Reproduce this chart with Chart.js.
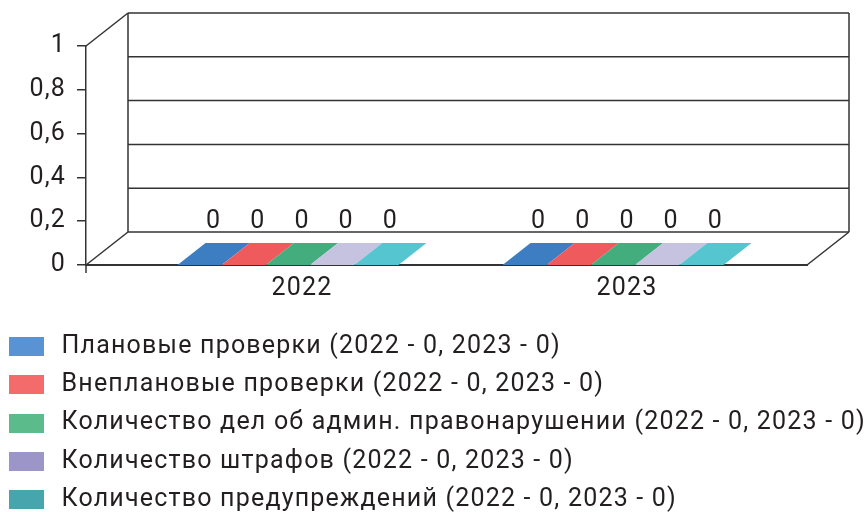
<!DOCTYPE html>
<html lang="ru">
<head>
<meta charset="utf-8">
<title>Проверки 2022–2023</title>
<script src="https://cdn.jsdelivr.net/npm/chart.js@4/dist/chart.umd.min.js"></script>
<style>
  html, body { margin: 0; padding: 0; background: #ffffff; }
  canvas { display: block; }
</style>
</head>
<body>
<canvas id="chart" width="866" height="512"></canvas>
<script>
const years = ["2022", "2023"];
const seriesNames = [
  "Плановые проверки",
  "Внеплановые проверки",
  "Количество дел об админ. правонарушении",
  "Количество штрафов",
  "Количество предупреждений",
];
const plannedChecks = [0, 0];
const unplannedChecks = [0, 0];
const adminCases = [0, 0];
const fines = [0, 0];
const warnings = [0, 0];
const yTickLabels = ["0", "0,2", "0,4", "0,6", "0,8", "1"];

const seriesValues = [plannedChecks, unplannedChecks, adminCases, fines, warnings];

// front colour (legend) and lit top face of each bar
const palette = {
  front: ["#5a93d3", "#f36b6b", "#5bbb8b", "#9c95c8", "#47a6ad"],
  top: ["#3d7ec2", "#ef5a5c", "#44ad7d", "#c5c3e0", "#55c5cf"],
};

const ink = "#333333";
const textColor = "#231f20";
const tracking = "1.2px";
const wall = { dx: 42, dy: 33 }; // depth of the floor / back wall
const slab = { dx: 28, dy: 22 }; // depth of a bar

const darken = (hex, f) => {
  const n = parseInt(hex.slice(1), 16);
  const c = [(n >> 16) & 255, (n >> 8) & 255, n & 255].map((v) => Math.round(v * f));
  return `rgb(${c[0]}, ${c[1]}, ${c[2]})`;
};

// legend swatch: 35x19 block with a gap before the text
const makeSwatch = (color) => {
  const c = document.createElement("canvas");
  c.width = 40;
  c.height = 19;
  const g = c.getContext("2d");
  g.fillStyle = color;
  g.fillRect(0, 0, 35, 19);
  return c;
};
const swatches = palette.front.map(makeSwatch);

const strokeLine = (ctx, x1, y1, x2, y2) => {
  ctx.beginPath();
  ctx.moveTo(x1, y1);
  ctx.lineTo(x2, y2);
  ctx.stroke();
};

const fillPoly = (ctx, pts, color) => {
  ctx.beginPath();
  pts.forEach(([px, py], k) => (k ? ctx.lineTo(px, py) : ctx.moveTo(px, py)));
  ctx.closePath();
  ctx.fillStyle = color;
  ctx.fill();
};

const box3d = {
  id: "box3d",
  beforeLayout(chart) {
    chart.ctx.letterSpacing = tracking;
  },
  beforeDraw(chart) {
    chart.ctx.letterSpacing = tracking;
  },
  beforeDatasetsDraw(chart) {
    const { ctx, chartArea: a, scales } = chart;
    const y = scales.y;
    ctx.save();
    ctx.strokeStyle = ink;
    ctx.lineWidth = 1.5;

    // back wall with its grid lines
    y.ticks.forEach((t) => {
      const py = y.getPixelForValue(t.value) - wall.dy;
      strokeLine(ctx, a.left + wall.dx, py, a.right + wall.dx, py);
    });
    strokeLine(ctx, a.left + wall.dx, a.top - wall.dy, a.left + wall.dx, a.bottom - wall.dy);
    strokeLine(ctx, a.right + wall.dx, a.top - wall.dy, a.right + wall.dx, a.bottom - wall.dy);

    // side wall and floor edges
    strokeLine(ctx, a.left, a.top, a.left + wall.dx, a.top - wall.dy);
    strokeLine(ctx, a.left, a.bottom, a.left + wall.dx, a.bottom - wall.dy);
    strokeLine(ctx, a.right, a.bottom, a.right + wall.dx, a.bottom - wall.dy);
    strokeLine(ctx, a.left, a.bottom, a.left, a.bottom + 8);

    // bars as boxes standing on the floor
    chart.data.datasets.forEach((ds, i) => {
      chart.getDatasetMeta(i).data.forEach((el) => {
        const { x, y: top, base, width } = el.getProps(["x", "y", "base", "width"], true);
        const left = x - width / 2 - slab.dx / 2;
        const right = left + width;
        if (base - top > 0) {
          fillPoly(ctx, [[left, top], [right, top], [right, base], [left, base]], palette.front[i]);
          fillPoly(
            ctx,
            [[right, top], [right + slab.dx, top - slab.dy], [right + slab.dx, base - slab.dy], [right, base]],
            darken(palette.front[i], 0.75)
          );
        }
        fillPoly(
          ctx,
          [[left, top], [right, top], [right + slab.dx, top - slab.dy], [left + slab.dx, top - slab.dy]],
          palette.top[i]
        );
      });
    });
    ctx.restore();
    return false;
  },
  afterDraw(chart) {
    const { ctx } = chart;
    ctx.save();
    ctx.font = "25px Roboto";
    ctx.fillStyle = textColor;
    ctx.textAlign = "center";
    ctx.textBaseline = "alphabetic";
    chart.data.datasets.forEach((ds, i) => {
      chart.getDatasetMeta(i).data.forEach((el, j) => {
        const { x, y: top } = el.getProps(["x", "y"], true);
        ctx.fillText(String(ds.data[j].y), x, top - slab.dy - 15);
      });
    });
    ctx.restore();
  },
};

Chart.defaults.font.family = "Roboto, sans-serif";
Chart.defaults.font.size = 25;
Chart.defaults.color = textColor;
Chart.defaults.animation = false;
Chart.defaults.responsive = false;

const datasets = seriesNames.map((name, i) => ({
  label: `${name} (${years.map((yr, j) => `${yr} - ${seriesValues[i][j]}`).join(", ")})`,
  data: years.map((yr, j) => ({ x: j, y: seriesValues[i][j] })),
  backgroundColor: palette.front[i],
  borderWidth: 0,
}));

new Chart(document.getElementById("chart"), {
  type: "bar",
  data: { datasets },
  plugins: [box3d],
  options: {
    maintainAspectRatio: false,
    layout: { padding: { top: 46, left: -4.3, right: 0, bottom: -10.2 } },
    datasets: { bar: { categoryPercentage: 0.68, barPercentage: 1 } },
    scales: {
      x: {
        type: "linear",
        offset: false,
        min: -0.6646,
        max: 1.5538,
        afterBuildTicks: (scale) => {
          scale.ticks = years.map((yr, j) => ({ value: j }));
        },
        afterFit: (scale) => {
          scale.height = 55.7;
        },
        ticks: {
          padding: 9,
          callback: (value) => years[value],
        },
        grid: { display: false, drawTicks: false },
        border: { display: true, color: ink, width: 2 },
      },
      y: {
        min: 0,
        max: 1,
        afterFit: (scale) => {
          scale.width = 90.3;
        },
        ticks: {
          stepSize: 0.2,
          padding: 11,
          callback: (value, index) => yTickLabels[index],
        },
        grid: { drawOnChartArea: false, drawTicks: true, tickLength: 9, color: ink, lineWidth: 1.5 },
        border: { display: true, color: ink, width: 1.5 },
      },
      // empty strip on the right that leaves room for the back wall
      yRight: {
        position: "right",
        min: 0,
        max: 1,
        afterFit: (scale) => {
          scale.width = 59;
        },
        ticks: { display: false },
        grid: { display: false, drawTicks: false },
        border: { display: false },
      },
    },
    plugins: {
      legend: {
        display: true,
        position: "bottom",
        align: "start",
        labels: {
          usePointStyle: true,
          pointStyleWidth: 40,
          boxHeight: 19,
          padding: 13.3,
          color: textColor,
          generateLabels: (chart) =>
            Chart.defaults.plugins.legend.labels.generateLabels(chart).map((item, i) => ({
              ...item,
              pointStyle: swatches[i],
            })),
        },
      },
      tooltip: { enabled: false },
    },
  },
});
</script>
</body>
</html>
